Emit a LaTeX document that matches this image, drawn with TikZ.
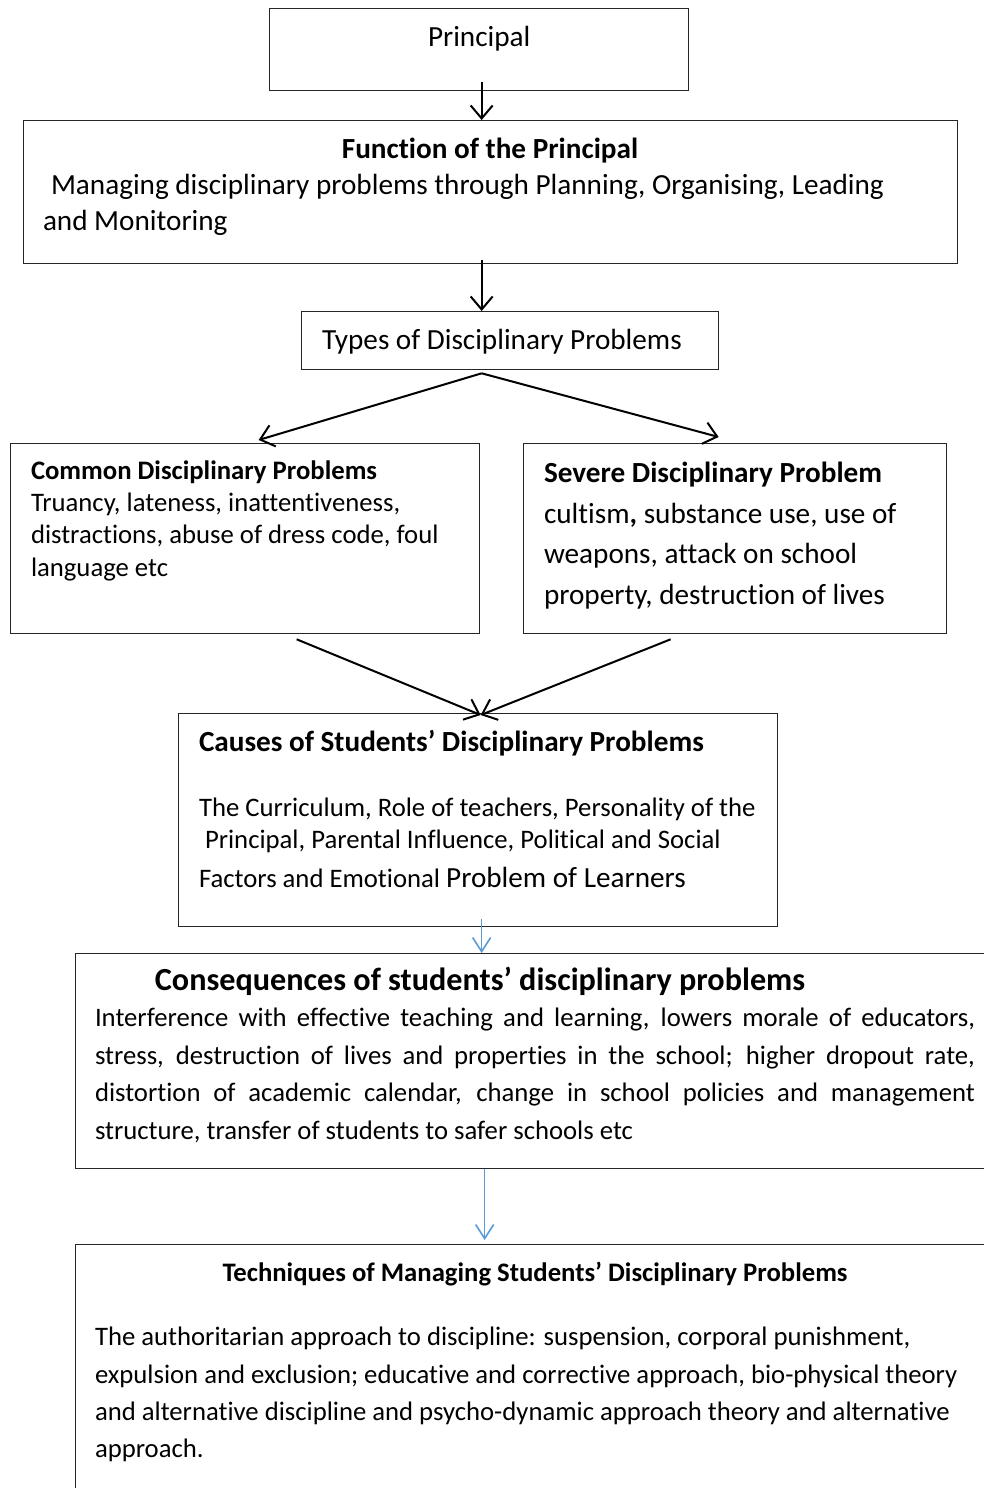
\documentclass[tikz,border=0pt]{standalone}
\usepackage{fontspec}
\setmainfont{Carlito}[Ligatures={NoCommon}]
\usetikzlibrary{arrows.meta,calc}
\definecolor{flowblue}{HTML}{5B9BD5}
\newcommand\sizeS{\fontsize{26.7}{32.6}\selectfont}
\newcommand\sizeM{\fontsize{29.2}{35.6}\selectfont}
\newcommand\sizeL{\fontsize{32.2}{39.2}\selectfont}
\tikzset{
  box/.style={draw=black!85, line width=1.3pt, fill=none, inner sep=0pt, anchor=north west},
  txt/.style={anchor=base west, inner sep=0pt, outer sep=0pt},
  ctxt/.style={anchor=base, inner sep=0pt, outer sep=0pt},
  arr/.style={draw=black, line width=2pt, -{Straight Barb[length=13pt,width=22pt,line width=2pt]}},
  barr/.style={draw=flowblue, line width=1.6pt, -{Straight Barb[length=14pt,width=18pt,line width=1.6pt]}}
}
\begin{document}
\begin{tikzpicture}[x=1pt,y=-1pt]
\useasboundingbox (0,0) rectangle (984,1488);
\fill[white] (0,0) rectangle (984,1488);
\clip (0,0) rectangle (984,1488);

% boxes
\node[box, minimum width=419pt, minimum height=82pt] (principal) at (269,8) {};
\node[box, minimum width=934pt, minimum height=143pt] (function) at (23,120) {};
\node[box, minimum width=417pt, minimum height=58pt] (types) at (301,311) {};
\node[box, minimum width=469pt, minimum height=190pt] (common) at (10,443) {};
\node[box, minimum width=423pt, minimum height=190pt] (severe) at (523,443) {};
\node[box, minimum width=599pt, minimum height=213pt] (causes) at (178,713) {};
\node[box, minimum width=940pt, minimum height=215pt] (conseq) at (75,953) {};
\node[box, minimum width=940pt, minimum height=300pt] (techn) at (75,1244) {};

% texts
\node[txt] (tprincipal) at (428,47) {\sizeM Principal};

\node[ctxt] (tfunc1) at (490,158) {\sizeM\bfseries Function of the Principal};
\node[txt] (tfunc2) at (51,194) {\sizeM Managing disciplinary problems through Planning, Organising, Leading};
\node[txt] (tfunc3) at (43,230) {\sizeM and Monitoring};

\node[txt] (ttypes) at (322,349) {\sizeM Types of Disciplinary Problems};

\node[txt] (tcom1) at (31,479.5) {\sizeS\bfseries Common Disciplinary Problems};
\node[txt] (tcom2) at (31,511.5) {\sizeS Truancy, lateness, inattentiveness,};
\node[txt] (tcom3) at (31,543.5) {\sizeS distractions, abuse of dress code, foul};
\node[txt] (tcom4) at (31,576.5) {\sizeS language etc};

\node[txt] (tsev1) at (544,482) {\sizeM\bfseries Severe Disciplinary Problem};
\node[txt] (tsev2) at (544,523) {\sizeM cultism\textbf{,} substance use, use of};
\node[txt] (tsev3) at (544,563) {\sizeM weapons, attack on school};
\node[txt] (tsev4) at (544,604) {\sizeM property, destruction of lives};

\node[txt] (tcau1) at (199,751) {\sizeM\bfseries Causes of Students’ Disciplinary Problems};
\node[txt] (tcau2) at (199,816.5) {\sizeS The Curriculum, Role of teachers, Personality of the};
\node[txt] (tcau3) at (205,848.5) {\sizeS Principal, Parental Influence, Political and Social};
\node[txt] (tcau4) at (199,887) {\sizeS Factors and Emotional \sizeM Problem of Learners};

\node[ctxt] (tcon1) at (480,990) {\sizeL\bfseries Consequences of students’ disciplinary problems};
\node[txt] (tcon2) at (95,1026.5) {\sizeS\makebox[880pt][s]{Interference with effective teaching and learning, lowers morale of educators,}};
\node[txt] (tcon3) at (95,1064.5) {\sizeS\makebox[880pt][s]{stress, destruction of lives and properties in the school; higher dropout rate,}};
\node[txt] (tcon4) at (95,1101.5) {\sizeS\makebox[880pt][s]{distortion of academic calendar, change in school policies and management}};
\node[txt] (tcon5) at (95,1139.5) {\sizeS structure, transfer of students to safer schools etc};

\node[ctxt] (ttec1) at (535,1281.5) {\sizeS\bfseries Techniques of Managing Students’ Disciplinary Problems};
\node[txt] (ttec2) at (95,1345.5) {\sizeS The authoritarian approach to discipline: suspension, corporal punishment,};
\node[txt] (ttec3) at (95,1383.5) {\sizeS expulsion and exclusion; educative and corrective approach, bio-physical theory};
\node[txt] (ttec4) at (95,1420.5) {\sizeS and alternative discipline and psycho-dynamic approach theory and alternative};
\node[txt] (ttec5) at (95,1457.5) {\sizeS approach.};

% connectors
\draw[arr] ($(principal.south)+(2.5,-9)$) -- ($(function.north)+(-9,0)$);
\draw[arr] ($(function.south)+(-9,-4)$) -- ($(types.north)+(-28.5,0)$);
\draw[arr] ($(types.south)+(-28.5,3)$) -- ($(common.north)+(13.5,-3)$);
\draw[arr] ($(types.south)+(-28.5,3)$) -- ($(severe.north)+(-16.5,-6)$);
\draw[arr] ($(common.south)+(51.5,5)$) -- ($(causes.north)+(2.5,2)$);
\draw[arr] ($(severe.south)+(-64.5,5)$) -- ($(causes.north)+(2.5,2)$);
\draw[barr] ($(causes.south)+(3.5,-8)$) -- ($(conseq.north)+(-64,0)$);
\draw[barr] ($(conseq.south)+(-61,0)$) -- ($(techn.north)+(-61,-4)$);
\end{tikzpicture}
\end{document}
